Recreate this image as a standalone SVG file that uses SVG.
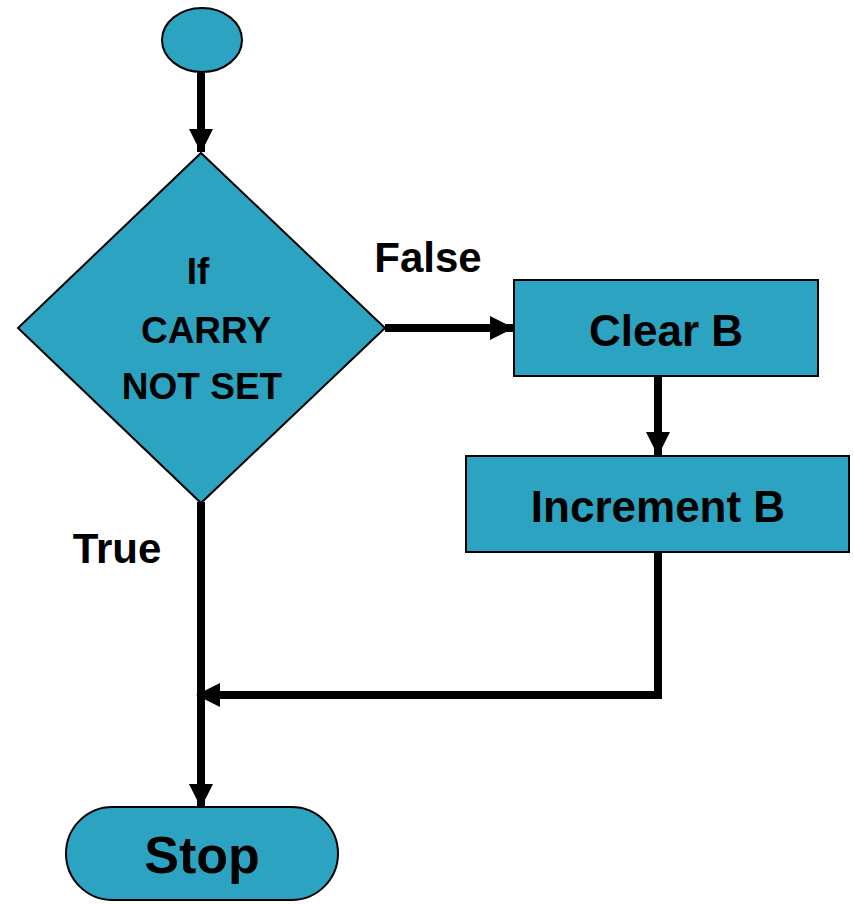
<svg xmlns="http://www.w3.org/2000/svg" width="854" height="904" viewBox="0 0 854 904">
<style>
.shape{fill:#2ca3c0;stroke:#000;stroke-width:2}
.conn{stroke:#000;stroke-width:8;fill:none}
text{font-family:"Liberation Sans",Arial,sans-serif;font-weight:bold;fill:#000;text-anchor:middle}
.dt{font-size:37px}
.lbl{font-size:42px}
.bt{font-size:44px}
</style>
<defs>
<marker id="ah" markerUnits="userSpaceOnUse" markerWidth="24" markerHeight="24" viewBox="0 0 24 24" refX="23" refY="12" orient="auto">
<path d="M0,0 L24,12 L0,24 Z" fill="#000"/>
</marker>
</defs>
<g id="connectors">
<line class="conn" x1="201" y1="72" x2="201" y2="152" marker-end="url(#ah)"/>
<line class="conn" x1="385" y1="328" x2="513" y2="328" marker-end="url(#ah)"/>
<line class="conn" x1="658" y1="376" x2="658" y2="455" marker-end="url(#ah)"/>
<polyline class="conn" points="658,552 658,695 197,695" marker-end="url(#ah)"/>
<line class="conn" x1="201" y1="502" x2="201" y2="807" marker-end="url(#ah)"/>
</g>
<g id="start">
<ellipse class="shape" cx="202" cy="40" rx="40" ry="32"/>
</g>
<g id="decision">
<polygon class="shape" points="201,153 385,328 201,503 18,328"/>
<text class="dt" x="198" y="284">If</text>
<text class="dt" x="206" y="343">CARRY</text>
<text class="dt" x="202" y="399">NOT SET</text>
</g>
<g id="label-false">
<text class="lbl" x="428" y="272">False</text>
</g>
<g id="label-true">
<text class="lbl" x="117" y="563">True</text>
</g>
<g id="clear-b">
<rect class="shape" x="514" y="280" width="304" height="96"/>
<text class="bt" x="666" y="346">Clear B</text>
</g>
<g id="increment-b">
<rect class="shape" x="466" y="456" width="383" height="96"/>
<text class="bt" x="658" y="522">Increment B</text>
</g>
<g id="stop">
<rect class="shape" x="66" y="807" width="272" height="93" rx="46.5" ry="46.5"/>
<text x="202" y="873" style="font-size:52px">Stop</text>
</g>
</svg>
